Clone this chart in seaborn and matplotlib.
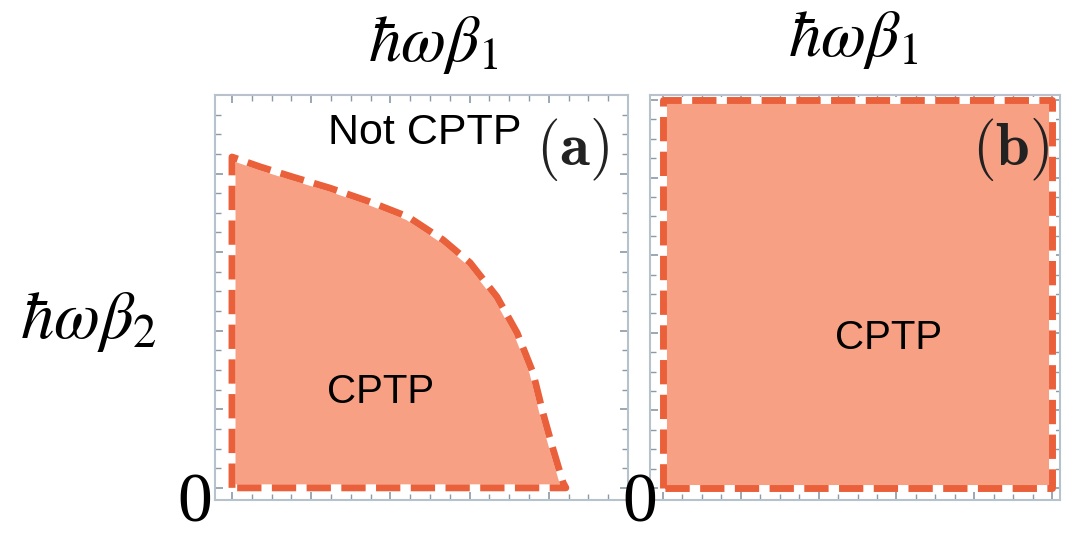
import matplotlib.pyplot as plt
import seaborn as sns
import numpy as np
from matplotlib.ticker import MultipleLocator

sns.set_style("ticks")
plt.rcParams['font.family'] = ['Liberation Sans', 'DejaVu Sans']
plt.rcParams['mathtext.fontset'] = 'stix'
plt.rcParams['text.color'] = 'black'

# boundary of the CPTP region, panel (a)
a_x = [0.0, 0.071, 0.154, 0.247, 0.348, 0.444, 0.533, 0.601, 0.669,
       0.720, 0.760, 0.785, 0.811, 0.836, 0.843]
a_y = [0.842, 0.817, 0.791, 0.763, 0.728, 0.690, 0.631, 0.573, 0.486,
       0.394, 0.293, 0.191, 0.097, 0.013, 0.0]

# panel (b): whole square is CPTP
b_x = [0.0, 0.0, 1.0, 1.0]
b_y = [0.0, 1.0, 1.0, 0.0]

fill_col = "#F8A083"
line_col = "#E9603A"
tick_col = "#8a9aa8"

fig = plt.figure(figsize=(10.66, 5.35), dpi=100)
ax_a = fig.add_axes([215/1066, 35/535, 413/1066, 405/535])
ax_b = fig.add_axes([650/1066, 35/535, 410/1066, 405/535])


def style_axes(ax):
    ax.xaxis.set_major_locator(MultipleLocator(0.2))
    ax.xaxis.set_minor_locator(MultipleLocator(0.05))
    ax.yaxis.set_major_locator(MultipleLocator(0.2))
    ax.yaxis.set_minor_locator(MultipleLocator(0.05))
    ax.tick_params(which="both", direction="in", top=True, right=True,
                   labelbottom=False, labelleft=False, color=tick_col)
    ax.tick_params(which="major", length=6, width=1.2)
    ax.tick_params(which="minor", length=4, width=1.0)
    for s in ax.spines.values():
        s.set_color("#b8c2cc")
        s.set_linewidth(1.5)
    ax.set_xlabel("")
    ax.set_ylabel("")


def draw_region(ax, xs, ys):
    px = list(xs)
    py = list(ys)
    # close along the axes
    if px[0] != 0 or py[0] != 0:
        px = [0.0] + px + [0.0]
        py = [0.0] + py + [0.0]
    else:
        px = px + [px[0]]
        py = py + [py[0]]
    ax.fill(px, py, color=fill_col, lw=0, zorder=1)
    sns.lineplot(x=px, y=py, sort=False, estimator=None, ax=ax,
                 color="white", lw=5, zorder=2)
    sns.lineplot(x=px, y=py, sort=False, estimator=None, ax=ax,
                 color=line_col, lw=5, zorder=3)
    ln = ax.lines[-1]
    ln.set_dashes((3.5, 1.5))
    ln.set_solid_joinstyle("round")
    ln.set_dash_joinstyle("round")


# panel (a)
draw_region(ax_a, a_x, a_y)
ax_a.set_xlim(-0.043, 1.0)
ax_a.set_ylim(-0.031, 1.0)
style_axes(ax_a)
ax_a.text(0.508, 0.905, "Not CPTP", fontsize=31, ha="center", va="center",
          transform=ax_a.transAxes)
ax_a.text(0.40, 0.267, "CPTP", fontsize=29, ha="center", va="center",
          transform=ax_a.transAxes)
ax_a.text(0.955, 0.865, r"$\mathbf{(a)}$", fontsize=44, ha="right", va="center",
          transform=ax_a.transAxes, math_fontfamily="cm", color="#222222")

# panel (b)
draw_region(ax_b, b_x, b_y)
ax_b.set_xlim(-0.033, 1.02)
ax_b.set_ylim(-0.031, 1.013)
style_axes(ax_b)
ax_b.text(0.583, 0.40, "CPTP", fontsize=29, ha="center", va="center",
          transform=ax_b.transAxes)
ax_b.text(0.975, 0.865, r"$\mathbf{(b)}$", fontsize=44, ha="right", va="center",
          transform=ax_b.transAxes, math_fontfamily="cm", color="#222222")

# axis annotations
fig.text(433/1066, 1 - 45/535, r"$\hbar\omega\beta_1$", fontsize=47,
         ha="center", va="center")
fig.text(853/1066, 1 - 40/535, r"$\hbar\omega\beta_1$", fontsize=47,
         ha="center", va="center")
fig.text(88/1066, 1 - 322/535, r"$\hbar\omega\beta_2$", fontsize=48,
         ha="center", va="center")
fig.text(195/1066, 1 - 505/535, "0", fontsize=50, family="Liberation Serif",
         ha="center", va="center")
fig.text(640/1066, 1 - 505/535, "0", fontsize=50, family="Liberation Serif",
         ha="center", va="center")

fig.savefig("out.png", dpi=100)
